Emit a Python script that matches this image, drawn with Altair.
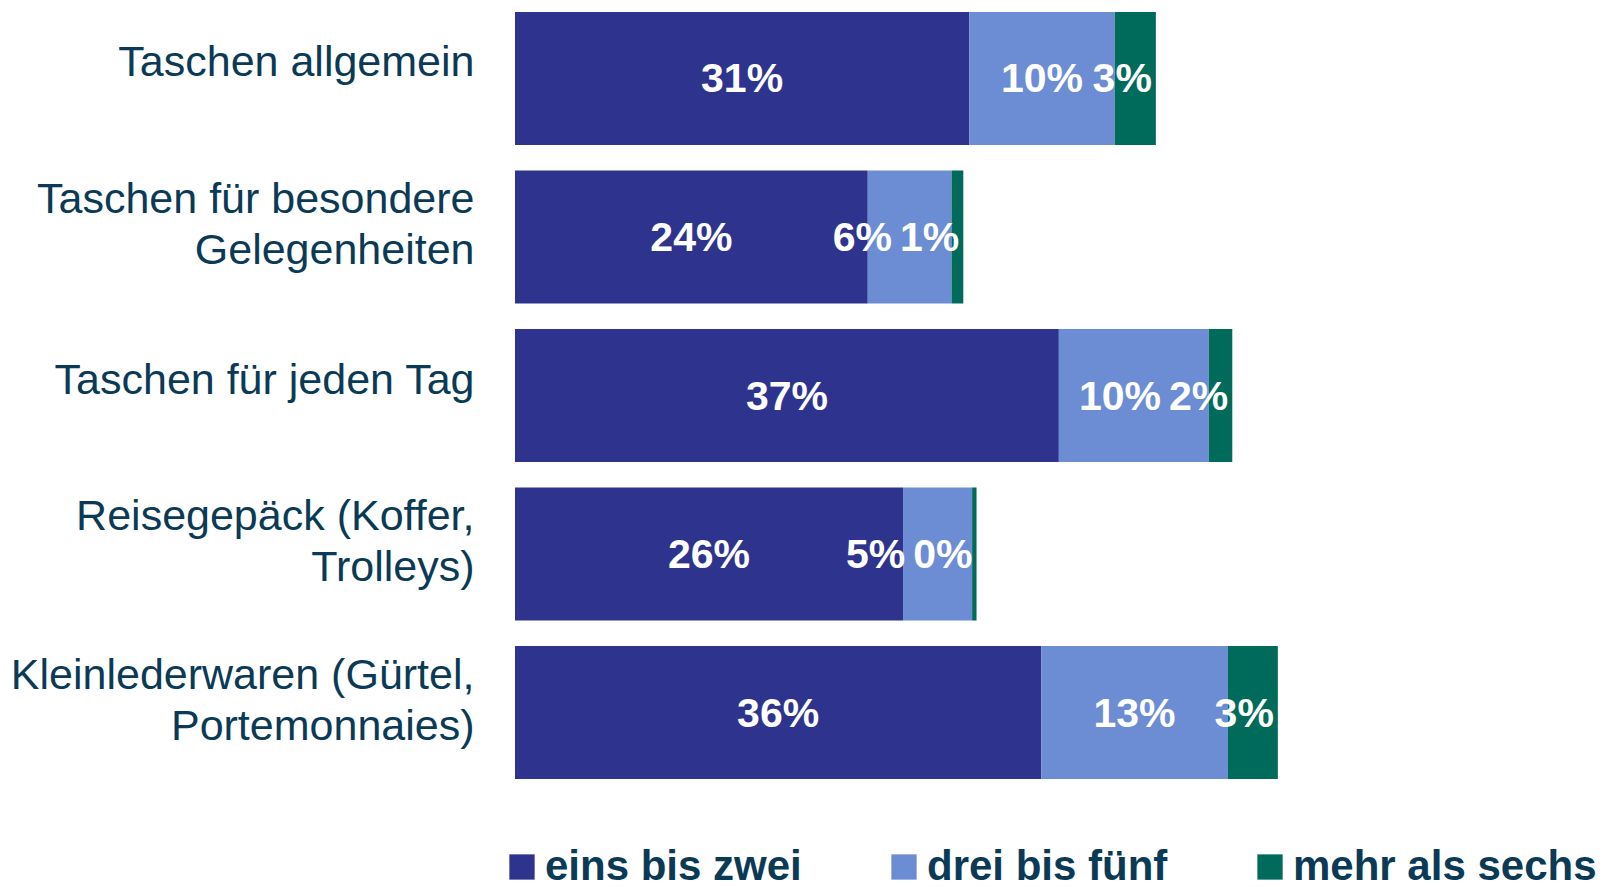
import altair as alt
import pandas as pd

categories = [
    "Taschen allgemein",
    "Taschen für besondere\nGelegenheiten",
    "Taschen für jeden Tag",
    "Reisegepäck (Koffer,\nTrolleys)",
    "Kleinlederwaren (Gürtel,\nPortemonnaies)",
]
series = ["eins bis zwei", "drei bis fünf", "mehr als sechs"]
eins_bis_zwei = [30.9, 24.0, 37.0, 26.4, 35.8]
drei_bis_fuenf = [9.9, 5.7, 10.2, 4.7, 12.7]
mehr_als_sechs = [2.8, 0.8, 1.6, 0.3, 3.4]
colors = ["#2E348E", "#6C8DD4", "#006B5A"]
text_color = "#0A3A56"

X_MAX = 73
WIDTH = 1073
FS = 41
PX_PER_UNIT = WIDTH / X_MAX


def text_w(s):
    # approximate width of bold Arial-like digits + percent sign, in pixels
    return (len(s) - 1) * 0.556 * FS + 0.889 * FS


rows = []
for i, cat in enumerate(categories):
    vals = [eins_bis_zwei[i], drei_bis_fuenf[i], mehr_als_sechs[i]]
    labels = [f"{round(v):d}%" for v in vals]
    starts = [0.0, vals[0], vals[0] + vals[1]]
    ends = [starts[k] + vals[k] for k in range(3)]
    # third label sits right-aligned at the bar end
    third_left = ends[2] - (4 + text_w(labels[2])) / PX_PER_UNIT
    lx = []
    lx.append((starts[0] + ends[0]) / 2)
    mid2 = (starts[1] + ends[1]) / 2
    limit = third_left - 8 / PX_PER_UNIT - text_w(labels[1]) / 2 / PX_PER_UNIT
    lx.append(min(mid2, limit))
    lx.append(ends[2])
    for j in range(3):
        rows.append({
            "Kategorie": cat,
            "Serie": series[j],
            "order": j,
            "wert": vals[j],
            "start": starts[j],
            "end": ends[j],
            "lx": lx[j],
            "label": labels[j],
        })
df = pd.DataFrame(rows)

x_scale = alt.Scale(domain=[0, X_MAX], nice=False, zero=True)
y_scale = alt.Scale(domain=categories, paddingInner=0.161, paddingOuter=0.025)

base = alt.Chart(df)

bars = base.mark_bar().encode(
    y=alt.Y(
        "Kategorie:N",
        scale=y_scale,
        sort=categories,
        axis=alt.Axis(
            title=None,
            ticks=False,
            domain=False,
            grid=False,
            labelFont="Liberation Sans",
            labelFontSize=43,
            labelColor=text_color,
            labelPadding=41,
            labelLimit=600,
            labelOffset={
                "condition": {"test": "indexof(datum.value, '\\n') >= 0", "value": -37},
                "value": -15,
            },
            labelLineHeight=51,
            labelExpr="split(datum.label, '\\n')",
        ),
    ),
    x=alt.X("start:Q", scale=x_scale, axis=None),
    x2="end:Q",
    color=alt.Color(
        "Serie:N",
        scale=alt.Scale(domain=series, range=colors),
        legend=alt.Legend(
            title=None,
            orient="none",
            legendX=-14,
            legendY=838,
            direction="horizontal",
            symbolType="square",
            symbolSize=640,
            symbolStrokeWidth=0,
            symbolOpacity=1,
            labelFont="Liberation Sans",
            labelFontWeight="bold",
            labelFontSize=42,
            labelColor=text_color,
            labelOffset=2,
            labelLimit=600,
            columnPadding=81,
        ),
    ),
    order=alt.Order("order:Q"),
)

text_center = base.transform_filter("datum.order < 2").mark_text(
    font="Liberation Sans", fontWeight="bold", fontSize=FS, color="white",
    align="center", baseline="middle", dy=2,
).encode(
    y=alt.Y("Kategorie:N", scale=y_scale, sort=categories),
    x=alt.X("lx:Q", scale=x_scale),
    text="label:N",
)

text_right = base.transform_filter("datum.order == 2").mark_text(
    font="Liberation Sans", fontWeight="bold", fontSize=FS, color="white",
    align="right", baseline="middle", dx=-4, dy=2,
).encode(
    y=alt.Y("Kategorie:N", scale=y_scale, sort=categories),
    x=alt.X("lx:Q", scale=x_scale),
    text="label:N",
)

chart = alt.layer(bars, text_center, text_right).properties(
    width=WIDTH,
    height=775,
    padding={"left": 507, "top": 0, "right": 13, "bottom": 104},
    autosize="none",
).configure_view(stroke=None)

chart.save("out.html", embed_options={"renderer": "svg", "actions": False})
